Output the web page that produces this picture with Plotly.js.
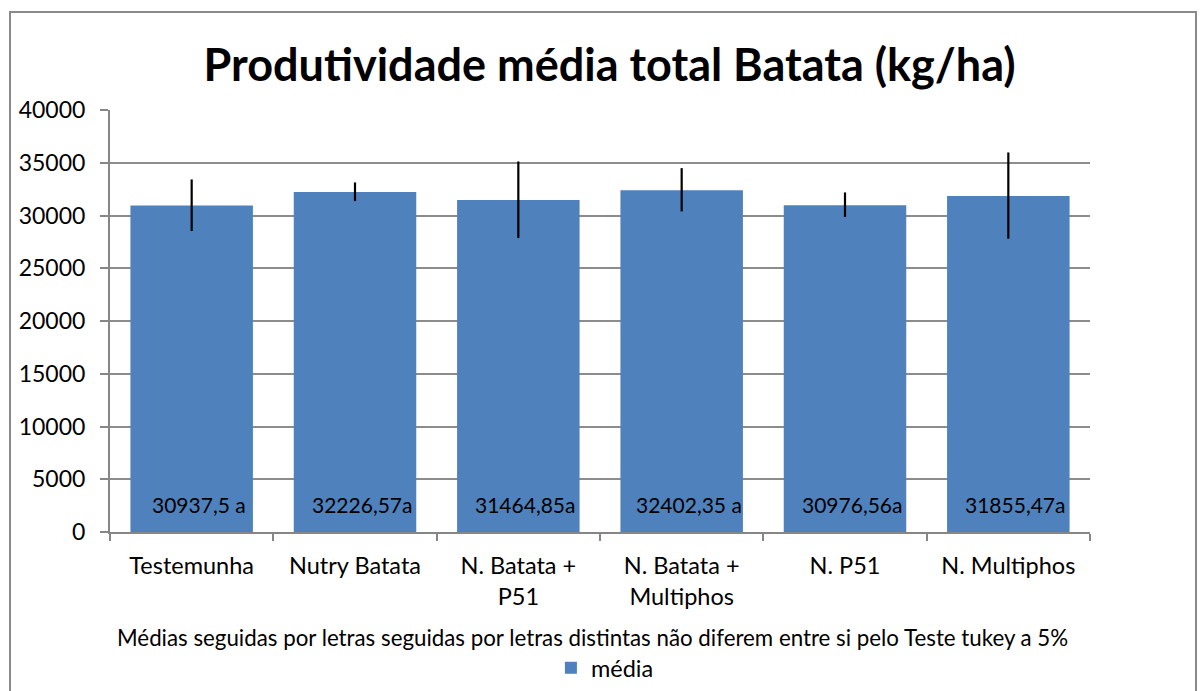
<!DOCTYPE html>
<html>
<head>
<meta charset="utf-8">
<script src="https://cdn.plot.ly/plotly-3.0.1.min.js"></script>
<style>
  html, body { margin: 0; padding: 0; background: #fff; }
  #wrap { position: relative; width: 1200px; height: 691px; }
  #chart { width: 1200px; height: 691px; }
  #frame { position: absolute; left: 9px; top: 11px; width: 1188px; height: 690px;
           border: 2px solid #8a8a8a; box-sizing: border-box; pointer-events: none; }
</style>
</head>
<body>
<div id="wrap">
  <div id="chart"></div>
  <div id="frame"></div>
</div>
<script>
const categories = ["Testemunha", "Nutry Batata", "N. Batata +<br>P51", "N. Batata +<br>Multiphos", "N. P51", "N. Multiphos"];
const means = [30937.5, 32226.57, 31464.85, 32402.35, 30976.56, 31855.47];
const errPlus = [2480, 907, 3658, 2088, 1211, 4120];
const errMinus = [2410, 862, 3603, 2013, 1122, 4055];
const barLabels = ["30937,5 a", "32226,57a", "31464,85a", "32402,35 a", "30976,56a", "31855,47a"];
const seriesName = "média";
const titleText = "Produtividade média total Batata (kg/ha)";
const footnote = "Médias seguidas por letras seguidas por letras distintas não diferem entre si pelo Teste tukey a 5%";

const FONT = "Lato, 'Open Sans', sans-serif";

const trace = {
  type: "bar",
  x: categories,
  y: means,
  name: seriesName,
  marker: { color: "#4F81BD", line: { width: 0 } },
  width: 0.75,
  error_y: {
    type: "data",
    symmetric: false,
    array: errPlus,
    arrayminus: errMinus,
    color: "#000000",
    thickness: 2.2,
    width: 0
  },
  hoverinfo: "x+y"
};

const annotations = categories.map((c, i) => ({
  x: c, y: 0, xref: "x", yref: "y",
  text: barLabels[i],
  showarrow: false,
  yanchor: "bottom",
  yshift: 13,
  xshift: 7,
  font: { family: FONT, size: 21, color: "#000" }
}));
annotations.push({
  x: 0.492, y: -0.249, xref: "paper", yref: "paper",
  text: footnote, showarrow: false,
  xanchor: "center", yanchor: "middle",
  font: { family: FONT, size: 22.3, color: "#000" }
});

const layout = {
  width: 1200, height: 691,
  margin: { l: 110, r: 110, t: 110, b: 159, autoexpand: false },
  paper_bgcolor: "#fff",
  plot_bgcolor: "#fff",
  font: { family: FONT, size: 23, color: "#000" },
  title: {
    text: "<b>" + titleText + "</b>",
    font: { family: FONT, size: 45, color: "#000" },
    x: 0.508, xanchor: "center",
    y: 0.906, yanchor: "middle", yref: "container"
  },
  xaxis: {
    type: "category",
    showline: true, linecolor: "#868686", linewidth: 2,
    ticks: "outside", tickson: "boundaries", ticklen: 7, tickcolor: "#868686", tickwidth: 2,
    tickfont: { family: FONT, size: 23.5, color: "#000" },
    ticklabelstandoff: 12,
    showgrid: false,
    automargin: false
  },
  yaxis: {
    range: [0, 40000], dtick: 5000, tick0: 0,
    tickformat: "d",
    showline: true, linecolor: "#868686", linewidth: 2,
    ticks: "outside", ticklen: 8, tickcolor: "#868686", tickwidth: 2,
    showgrid: true, gridcolor: "#8c8c8c", gridwidth: 2,
    zeroline: false,
    tickfont: { family: FONT, size: 23, color: "#000" },
    ticklabelstandoff: 10,
    automargin: false
  },
  bargap: 0.25,
  showlegend: true,
  legend: {
    orientation: "h",
    x: 0.505, xanchor: "center",
    yref: "container",
    y: 1 - 668 / 691, yanchor: "middle",
    font: { family: FONT, size: 23.5, color: "#000" },
    bgcolor: "rgba(0,0,0,0)"
  },
  annotations: annotations
};

Plotly.newPlot("chart", [trace], layout, { displayModeBar: false, staticPlot: true });
</script>
</body>
</html>
